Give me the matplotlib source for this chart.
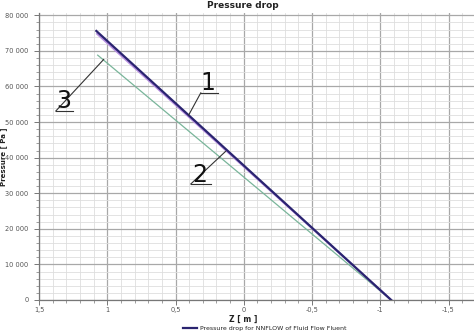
import matplotlib
matplotlib.use("Agg")
import matplotlib.pyplot as plt
from matplotlib.ticker import MultipleLocator, FuncFormatter

# Data
z_nnflow = [1.08, -1.08]
p_nnflow = [75600, 0]
z_curve2 = [1.075, -1.08]
p_curve2 = [74800, 0]
z_curve3 = [1.07, -1.08]
p_curve3 = [68800, 0]

legend_label = "Pressure drop for NNFLOW of Fluid Flow Fluent"
title = "Pressure drop"
xlabel = "Z [ m ]"
ylabel = "Pressure [ Pa ]"

# callout labels: text, text position, elbow start, elbow end, target point
callouts = [
    ("1", (0.265, 61000), (0.315, 58200), (0.19, 58200), (0.403, 52000)),
    ("2", (0.32, 35000), (0.388, 32600), (0.242, 32600), (0.132, 41800)),
    ("3", (1.32, 56000), (1.377, 53100), (1.253, 53100), (1.026, 67600)),
]

fig = plt.figure(figsize=(4.74, 3.34), dpi=100)
ax = fig.add_axes([39/474, 34/334, 435/474, 287/334])

ax.set_xlim(1.5, 1.5 - 435/136.5)
ax.set_ylim(0, 287*281)

ax.xaxis.set_major_locator(MultipleLocator(0.5))
ax.xaxis.set_minor_locator(MultipleLocator(0.1))
ax.yaxis.set_major_locator(MultipleLocator(10000))
ax.yaxis.set_minor_locator(MultipleLocator(2000))

def xfmt(v, pos):
    s = f"{v:g}"
    if s == "-0":
        s = "0"
    return s.replace(".", ",")

def yfmt(v, pos):
    return f"{int(round(v)):,}".replace(",", " ")

ax.xaxis.set_major_formatter(FuncFormatter(xfmt))
ax.yaxis.set_major_formatter(FuncFormatter(yfmt))

ax.grid(which="major", color="#a8a8a8", linewidth=0.9)
ax.grid(which="minor", color="#dedede", linewidth=0.6)
ax.set_axisbelow(True)

for s in ["top", "right"]:
    ax.spines[s].set_visible(False)
for s in ["left", "bottom"]:
    ax.spines[s].set_color("#777777")
    ax.spines[s].set_linewidth(0.9)

ax.tick_params(which="major", length=3.5, width=0.7, color="#777777",
               labelsize=4.8, labelcolor="#555555")
ax.tick_params(axis="y", which="major", pad=4)
ax.tick_params(axis="x", which="major", pad=1.5)
ax.tick_params(which="minor", length=2, width=0.5, color="#777777")

ax.plot(z_curve3, p_curve3, color="#79b59a", linewidth=0.9)
ax.plot(z_curve2, p_curve2, color="#b68fe0", linewidth=1.4)
ln, = ax.plot(z_nnflow, p_nnflow, color="#2a2470", linewidth=1.6, label=legend_label)

for txt, tpos, e1, e2, tgt in callouts:
    ax.text(tpos[0], tpos[1], txt, fontsize=17, ha="center", va="center", color="#111111")
    ax.plot([e1[0], e2[0]], [e1[1], e2[1]], color="#333333", linewidth=0.8)
    ax.plot([e1[0], tgt[0]], [e1[1], tgt[1]], color="#333333", linewidth=0.8)

fig.text(243/474, 1 - 6/334, title, ha="center", va="center", fontsize=6.5,
         fontweight="bold", color="#222222")
fig.text(243/474, 1 - 319.5/334, xlabel, ha="center", va="center", fontsize=5.5,
         fontweight="bold", color="#222222")
fig.text(4/474, 1 - 157/334, ylabel, ha="center", va="center", rotation=90,
         fontsize=5, fontweight="bold", color="#222222")

fig.legend(handles=[ln], loc="center", bbox_to_anchor=(265/474, 1 - 328/334),
           frameon=False, fontsize=4.5, handlelength=2.2, handletextpad=0.6,
           borderpad=0, labelcolor="#222222")

fig.savefig("out.png", dpi=100)
